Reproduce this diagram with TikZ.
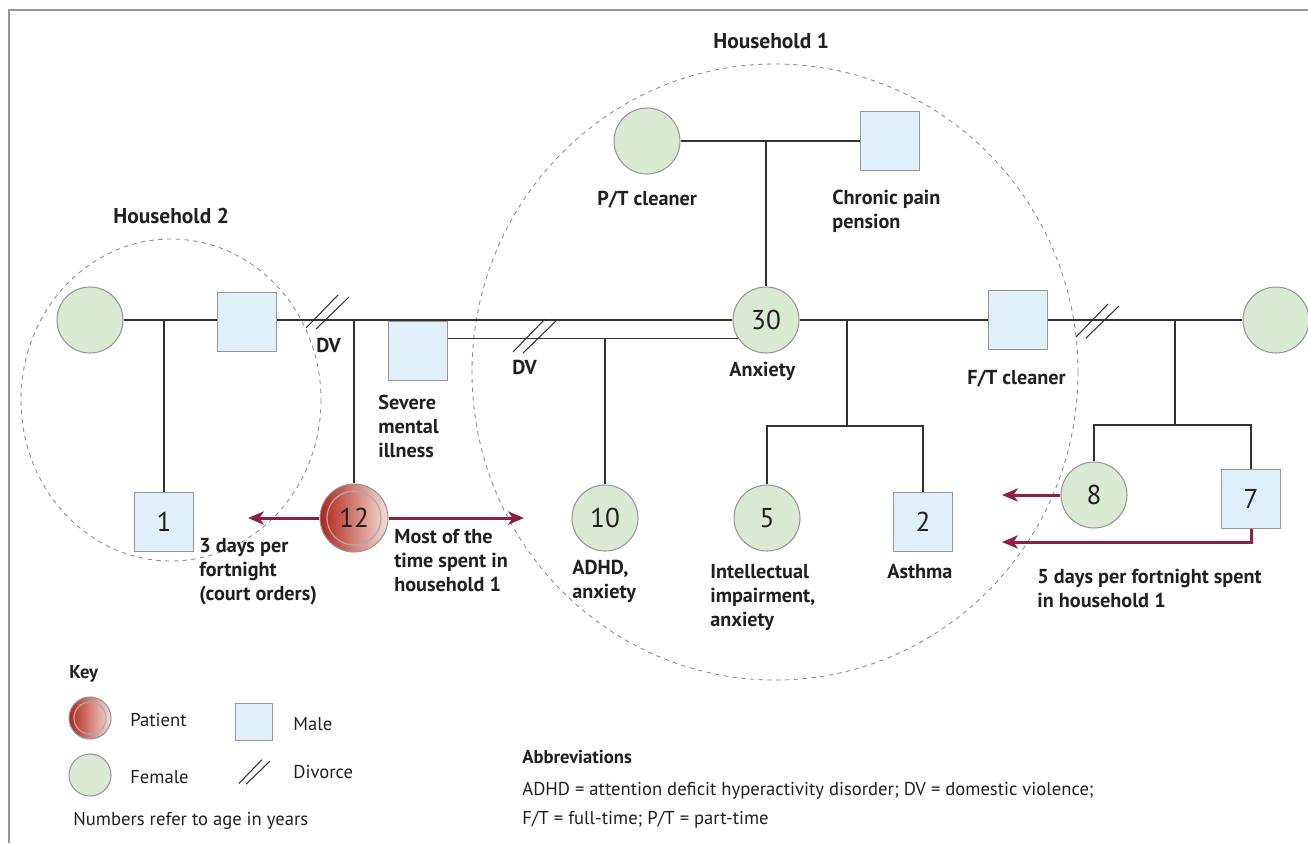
\documentclass[tikz,border=0pt]{standalone}
\usepackage{fontspec}
\setmainfont{PT Sans}
\usetikzlibrary{arrows.meta}

\definecolor{femfill}{RGB}{217,234,211}
\definecolor{malefill}{RGB}{223,240,251}
\definecolor{symline}{RGB}{150,150,150}
\definecolor{linkcol}{RGB}{50,50,50}
\definecolor{visitcol}{RGB}{140,32,72}
\definecolor{patdark}{RGB}{178,34,24}
\definecolor{patlight}{RGB}{244,222,212}
\definecolor{hholdcol}{RGB}{140,140,140}
\definecolor{ink}{RGB}{35,31,32}

\newcommand\agefont{\fontsize{15.5}{17}\selectfont}
\newcommand\labfont{\bfseries\fontsize{11.5}{13.6}\selectfont}
\newcommand\hhfont{\bfseries\fontsize{12.2}{14}\selectfont}
\newcommand\keyfont{\fontsize{10.6}{12.5}\selectfont}

\begin{document}
\begin{tikzpicture}[x=0.02cm,y=-0.02cm,
        female/.style={circle,draw=symline,fill=femfill,line width=0.6pt,minimum size=1.32cm,inner sep=0pt,font=\agefont,text=ink},
        male/.style={rectangle,draw=symline,fill=malefill,line width=0.6pt,minimum size=1.19cm,inner sep=0pt,font=\agefont,text=ink},
        patient/.style={circle,draw=symline,left color=patdark,right color=patlight,line width=0.6pt,minimum size=1.36cm,inner sep=0pt,font=\agefont,text=ink},
        ring/.style={draw=symline!80,line width=0.7pt},
        lab/.style={font=\labfont,align=left,inner sep=0pt,anchor=base west,text=ink},
        keytext/.style={font=\keyfont,inner sep=0pt,anchor=base west,text=ink},
        link/.style={draw=linkcol,line width=0.75pt},
        visit/.style={draw=visitcol,line width=1.7pt,-{Stealth[length=9pt,width=7.5pt,inset=2.5pt]}},
        hhold/.style={draw=hholdcol,line width=0.5pt,dash pattern=on 2.5pt off 2.5pt},
        divorce/.pic={\draw[linkcol,line width=0.6pt] (-21,16) -- (11,-17) (-11,17) -- (22,-15);}]

    \useasboundingbox (0,0) rectangle (1308,843);
    \draw[symline,line width=0.6pt] (1308,10) -- (9,10) -- (9,843);

    % Households
    \draw[hhold] (171,400) ellipse[x radius=150,y radius=161];
    \draw[hhold] (775,372) ellipse[x radius=303,y radius=308];
    \node[lab,font=\hhfont] (hh2) at (113,223) {Household 2};
    \node[lab,font=\hhfont] (hh1) at (713,48) {Household 1};

    % Define vertices
    \node[female] (gm2) at (90,320) {};
    \node[male] (f2) at (247,322) {};
    \node[male] (s1) at (164,522) {1};
    \node[patient] (p12) at (354,518) {12};
    \draw[ring] (p12) circle[radius=27];
    \node[male] (smi) at (418,351) {};
    \node[female] (d10) at (605,518) {10};
    \node[female] (gm1) at (647,141) {};
    \node[male] (gf1) at (890,141) {};
    \node[female] (m30) at (766,320) {30};
    \node[male] (ft) at (1018,320) {};
    \node[female] (d5) at (767,518) {5};
    \node[male] (s2) at (923,522) {2};
    \node[female] (gm3) at (1276,320) {};
    \node[female] (d8) at (1094,495) {8};
    \node[male] (s7) at (1251,499) {7};

    % Child branch points
    \coordinate (k1) at (164,320);
    \coordinate (k12) at (354,320);
    \coordinate (k10) at (605,338);
    \coordinate (k30) at (766,141);
    \coordinate (k5a) at (847,320);
    \coordinate (k5b) at (847,426);
    \coordinate (k8a) at (1175,320);
    \coordinate (k8b) at (1175,425);

    % Draw edges
    \path[link]
        (gm2) edge (f2.west |- gm2)
        (f2.east |- gm2) edge (m30)
        (smi.east |- m30.213) edge (m30.213)
        (gm1) edge (gf1)
        (m30) edge (ft)
        (ft) edge (gm3)
        (k1) edge (s1)
        (k12) edge (p12)
        (k10) edge (d10)
        (k30) edge (m30)
        (k5a) edge (k5b)
        (k8a) edge (k8b);
    \draw[link] (d5) |- (k5b) -| (s2);
    \draw[link] (d8) |- (k8b) -| (s7);

    \pic at (327,312) {divorce};
    \pic at (534,336) {divorce};
    \pic at (1097,321) {divorce};

    % Time spent
    \coordinate (to2) at (248,518);
    \coordinate (to1) at (524,518);
    \coordinate (back8) at (1002,495);
    \coordinate (back7) at (1002,542);
    \draw[visit] (p12) -- (to2);
    \draw[visit] (p12) -- (to1);
    \draw[visit] (d8) -- (back8);
    \draw[visit] (s7) |- (back7);

    % Labels (base = last line)
    \node[lab] (dv1) at (316,352) {DV};
    \node[lab] (dv2) at (512,374) {DV};
    \node[lab] (lsmi) at (378,457) {Severe\\mental\\illness};
    \node[lab] (l3d) at (199,600) {3 days per\\fortnight\\(court orders)};
    \node[lab] (lmost) at (394,591) {Most of the\\time spent in\\household 1};
    \node[lab] (lpt) at (597,205) {P/T cleaner};
    \node[lab] (lcp) at (832,228) {Chronic pain\\pension};
    \node[lab] (lanx) at (729,376) {Anxiety};
    \node[lab] (lft) at (967,384) {F/T cleaner};
    \node[lab] (ladhd) at (572,598) {ADHD,\\anxiety};
    \node[lab] (lint) at (710,626) {Intellectual\\impairment,\\anxiety};
    \node[lab] (last) at (887,578) {Asthma};
    \node[lab] (l5d) at (1037,607) {5 days per fortnight spent\\in household 1};

    % Key
    \node[keytext,font=\keyfont\bfseries] (key) at (69,678) {Key};
    \node[patient,minimum size=0.84cm] (kp) at (90,718) {};
    \draw[ring] (kp) circle[radius=16];
    \node[keytext] (kpt) at (130,726) {Patient};
    \node[female,minimum size=0.84cm] (kf) at (90,775) {};
    \node[keytext] (kft) at (130,783) {Female};
    \node[male,minimum size=0.74cm] (km) at (254,722) {};
    \node[keytext] (kmt) at (293,730) {Male};
    \pic[scale=0.72] at (254,772) {divorce};
    \node[keytext] (kdt) at (293,778) {Divorce};
    \node[keytext] (knum) at (73,825) {Numbers refer to age in years};

    % Abbreviations
    \node[keytext,font=\keyfont\bfseries] (abbr) at (522,763) {Abbreviations};
    \node[keytext] (abbr1) at (522,795) {ADHD = attention deficit hyperactivity disorder; DV = domestic violence;};
    \node[keytext] (abbr2) at (522,824) {F/T = full-time; P/T = part-time};
\end{tikzpicture}
\end{document}
